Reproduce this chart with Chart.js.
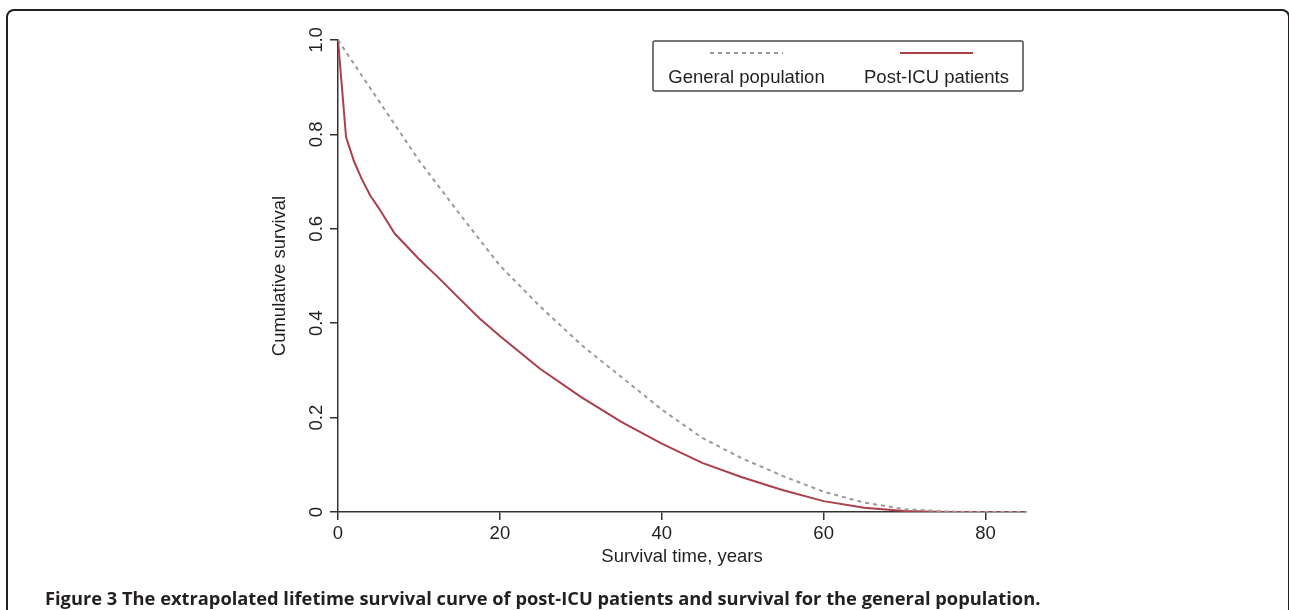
<!DOCTYPE html>
<html>
<head>
<meta charset="utf-8">
<script src="https://cdn.jsdelivr.net/npm/chart.js@4.4.1/dist/chart.umd.min.js"></script>
<style>
  html, body { margin: 0; padding: 0; background: #fff; }
  body { width: 1289px; height: 610px; position: relative; overflow: hidden; }
  #frame {
    position: absolute; left: 6px; top: 9px; width: 1280px; height: 700px;
    border: 2px solid #231f20; border-radius: 8px 8px 0 0;
  }
  #survival-chart { position: absolute; left: 0; top: 0; }
  #caption {
    position: absolute; left: 45px; top: 587px; line-height: 22px;
    font-family: "Open Sans", sans-serif; font-weight: 700; font-size: 18.3px;
    color: #231f20; white-space: nowrap;
  }
</style>
</head>
<body>
<div id="frame"></div>
<canvas id="survival-chart" width="1289" height="610"></canvas>
<div id="caption">Figure 3 The extrapolated lifetime survival curve of post-ICU patients and survival for the general population.</div>
<script>
// series
const seriesLabels = ['General population', 'Post-ICU patients'];

const generalYears = [0, 5, 10, 15, 20, 25, 30, 35, 40, 45, 50, 55, 60, 65, 70, 75, 80, 85];
const generalSurvival = [1.0, 0.872, 0.745, 0.632, 0.522, 0.435, 0.355, 0.286, 0.217, 0.157, 0.113, 0.076, 0.043, 0.020, 0.006, 0.001, 0, 0];

const icuYears = [0, 1, 2, 3, 4, 5, 7, 10, 12.5, 15, 17.5, 20, 25, 30, 35, 40, 45, 50, 55, 60, 65, 70, 75, 85];
const icuSurvival = [1.0, 0.794, 0.742, 0.703, 0.670, 0.645, 0.590, 0.536, 0.495, 0.452, 0.410, 0.373, 0.303, 0.244, 0.191, 0.145, 0.104, 0.073, 0.046, 0.023, 0.009, 0.002, 0, 0];

const xTicks = [0, 20, 40, 60, 80];
const xTickLabels = ['0', '20', '40', '60', '80'];
const yTicks = [0, 0.2, 0.4, 0.6, 0.8, 1.0];
const yTickLabels = ['0', '0.2', '0.4', '0.6', '0.8', '1.0'];

const FONT = '"Liberation Sans", Arial, sans-serif';
const INK = '#231f20';
const GREY = '#9a9a9a';
const RED = '#ab3f4c';

function toPoints(xs, ys) {
    return xs.map((x, i) => ({ x: x, y: ys[i] }));
}

// y tick labels are rotated in the original (R style), Chart.js can't do that on a y axis
const rotatedYLabels = {
    id: 'rotatedYLabels',
    afterDraw(chart) {
        const ctx = chart.ctx;
        const y = chart.scales.y;
        ctx.save();
        ctx.fillStyle = INK;
        ctx.font = '18.5px ' + FONT;
        ctx.textAlign = 'center';
        ctx.textBaseline = 'middle';
        yTicks.forEach((v, i) => {
            ctx.save();
            ctx.translate(y.right - 21.5, y.getPixelForValue(v));
            ctx.rotate(-Math.PI / 2);
            ctx.fillText(yTickLabels[i], 0, 0);
            ctx.restore();
        });
        ctx.restore();
    }
};

// boxed legend, sample line above each label
const boxLegend = {
    id: 'boxLegend',
    afterDraw(chart) {
        const ctx = chart.ctx;
        const box = { x: 653, y: 41, w: 370, h: 50 };
        const centers = [746.5, 936.5];
        ctx.save();
        ctx.strokeStyle = '#4a4a4a';
        ctx.lineWidth = 1.5;
        ctx.beginPath();
        ctx.roundRect(box.x, box.y, box.w, box.h, 2);
        ctx.stroke();

        chart.data.datasets.forEach((ds, i) => {
            const cx = centers[i];
            ctx.strokeStyle = ds.borderColor;
            ctx.lineWidth = ds.borderWidth;
            ctx.setLineDash(ds.borderDash || []);
            ctx.beginPath();
            ctx.moveTo(cx - 36.5, box.y + 12);
            ctx.lineTo(cx + 36.5, box.y + 12);
            ctx.stroke();
            ctx.setLineDash([]);

            ctx.fillStyle = INK;
            ctx.font = '18.5px ' + FONT;
            ctx.textAlign = 'center';
            ctx.textBaseline = 'middle';
            ctx.fillText(ds.label, cx, box.y + 37);
        });
        ctx.restore();
    }
};

const chart = new Chart(document.getElementById('survival-chart'), {
    type: 'line',
    data: {
        datasets: [{
            label: seriesLabels[0],
            data: toPoints(generalYears, generalSurvival),
            borderColor: GREY,
            borderWidth: 2,
            borderDash: [4, 4],
            pointRadius: 0,
            tension: 0,
            fill: false
        }, {
            label: seriesLabels[1],
            data: toPoints(icuYears, icuSurvival),
            borderColor: RED,
            borderWidth: 2,
            pointRadius: 0,
            tension: 0,
            fill: false
        }]
    },
    options: {
        responsive: false,
        animation: false,
        layout: {
            padding: { left: 269, top: 40, right: 263, bottom: 42 }
        },
        plugins: {
            legend: { display: false },
            tooltip: { enabled: false }
        },
        scales: {
            x: {
                type: 'linear',
                min: 0,
                max: 85,
                afterBuildTicks: (scale) => { scale.ticks = xTicks.map(v => ({ value: v })); },
                afterFit: (scale) => { scale.height = 56; },
                ticks: {
                    color: INK,
                    font: { family: FONT, size: 18.5 },
                    padding: 3,
                    maxRotation: 0,
                    callback: (v) => xTickLabels[xTicks.indexOf(v)]
                },
                grid: {
                    drawOnChartArea: false,
                    drawTicks: true,
                    tickLength: 8,
                    color: '#333',
                    lineWidth: 1.5
                },
                border: { display: true, color: '#333', width: 1.5 },
                title: {
                    display: true,
                    text: 'Survival time, years',
                    color: INK,
                    font: { family: FONT, size: 18.5 },
                    padding: 0
                }
            },
            y: {
                type: 'linear',
                min: 0,
                max: 1,
                afterBuildTicks: (scale) => { scale.ticks = yTicks.map(v => ({ value: v })); },
                afterFit: (scale) => { scale.width = 69; },
                ticks: {
                    color: 'rgba(0,0,0,0)',
                    font: { family: FONT, size: 18.5 }
                },
                grid: {
                    drawOnChartArea: false,
                    drawTicks: true,
                    tickLength: 8,
                    color: '#333',
                    lineWidth: 1.5
                },
                border: { display: true, color: '#333', width: 1.5 },
                title: {
                    display: true,
                    text: 'Cumulative survival',
                    color: INK,
                    font: { family: FONT, size: 18.5 },
                    padding: 0
                }
            }
        }
    },
    plugins: [rotatedYLabels, boxLegend]
});
</script>
</body>
</html>
